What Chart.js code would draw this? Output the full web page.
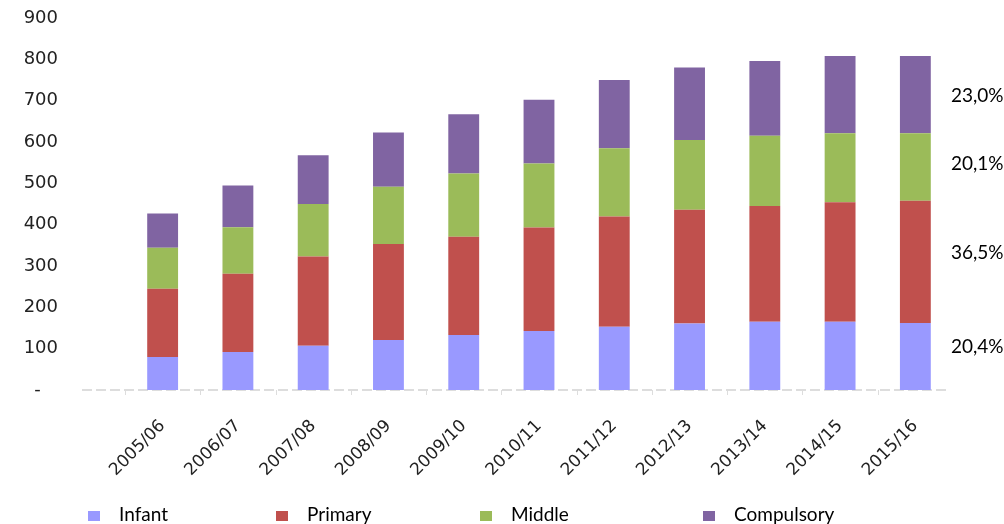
<!DOCTYPE html>
<html>
<head>
<meta charset="utf-8">
<script src="https://cdn.jsdelivr.net/npm/chart.js@4/dist/chart.umd.min.js"></script>
<style>
  body { margin: 0; background: #fff; }
  #wrap { position: relative; width: 1004px; height: 524px; }
</style>
</head>
<body>
<div id="wrap"><canvas id="chart" width="1004" height="524"></canvas></div>
<script>
// School years on the x axis
const years = ["2005/06", "2006/07", "2007/08", "2008/09", "2009/10", "2010/11",
  "2011/12", "2012/13", "2013/14", "2014/15", "2015/16"];

// Stacked values per level
const infant = [80, 92, 107, 121, 133, 143, 153, 161, 165, 165, 162];
const primary = [165, 189, 216, 232, 238, 250, 267, 275, 280, 289, 296];
const middle = [99, 113, 127, 139, 153, 155, 165, 169, 170, 167, 163];
const compulsory = [83, 101, 118, 131, 143, 154, 165, 175, 181, 187, 187];

// Share labels on the right, bottom to top
const shareLabels = ["20,4%", "36,5%", "20,1%", "23,0%"];

const levelNames = ["Infant", "Primary", "Middle", "Compulsory"];
const levelColors = ["#9999ff", "#c0504d", "#9bbb59", "#8064a2"];

// dashed base line + small ticks, like the original
const baseLine = {
  id: "baseLine",
  beforeDatasetsDraw(chart) {
    const ctx = chart.ctx;
    const x = chart.scales.x;
    const y0 = chart.scales.y.getPixelForValue(0);
    const step = x.getPixelForTick(1) - x.getPixelForTick(0);
    ctx.save();
    ctx.strokeStyle = "#dddddd";
    ctx.lineWidth = 2;
    ctx.setLineDash([10, 4]);
    ctx.beginPath();
    ctx.moveTo(82, y0);
    ctx.lineTo(950, y0);
    ctx.stroke();
    ctx.setLineDash([]);
    ctx.lineWidth = 1;
    for (let i = 0; i < years.length; i++) {
      const tx = Math.round(x.getPixelForTick(i) - step / 2) + 0.5;
      ctx.beginPath();
      ctx.moveTo(tx, y0);
      ctx.lineTo(tx, y0 + 5);
      ctx.stroke();
    }
    ctx.restore();
  },
};

// share labels on the right and the legend at the bottom
const extraText = {
  id: "extraText",
  afterDraw(chart) {
    const ctx = chart.ctx;
    ctx.save();
    ctx.fillStyle = "#000";
    ctx.font = "19px Lato";
    ctx.textAlign = "left";
    ctx.textBaseline = "middle";
    const shareY = [347, 253, 164, 96];
    shareLabels.forEach((t, i) => ctx.fillText(t, 951, shareY[i]));

    // legend
    const legendX = [88, 276, 480, 703];
    ctx.textBaseline = "alphabetic";
    chart.data.datasets.forEach((ds, i) => {
      ctx.fillStyle = ds.backgroundColor;
      ctx.fillRect(legendX[i], 511, 12, 10);
      ctx.fillStyle = "#000";
      ctx.fillText(ds.label, legendX[i] + 31, 521);
    });
    ctx.restore();
  },
};

const seriesData = [infant, primary, middle, compulsory];

const chart = new Chart(document.getElementById("chart"), {
  type: "bar",
  data: {
    labels: years,
    datasets: seriesData.map((d, i) => ({
      label: levelNames[i],
      data: d,
      backgroundColor: levelColors[i],
      borderWidth: 0,
      categoryPercentage: 0.41,
      barPercentage: 1,
    })),
  },
  options: {
    responsive: false,
    animation: false,
    layout: { padding: { left: 0, right: 51, top: 18, bottom: 50 } },
    plugins: {
      legend: { display: false },
      tooltip: { enabled: false },
    },
    scales: {
      x: {
        stacked: true,
        grid: { display: false, drawTicks: false },
        border: { display: false },
        ticks: {
          color: "#222",
          font: { family: "'DejaVu Sans'", size: 17 },
          minRotation: 45,
          maxRotation: 45,
          padding: 26,
        },
      },
      y: {
        stacked: true,
        min: 0,
        max: 900,
        grid: { display: false, drawTicks: false },
        border: { display: false },
        ticks: {
          stepSize: 100,
          color: "#222",
          font: { family: "'DejaVu Sans'", size: 18 },
          padding: 67,
          callback: (v) => (v === 0 ? "-   " : v),
        },
        afterFit(scale) {
          // keep the label gap from eating the plot height
          scale.width = 125;
          scale.paddingTop = 10;
          scale.paddingBottom = 10;
        },
      },
    },
  },
  plugins: [baseLine, extraText],
});

// nudge the plot area to the spot used by the original
const area = chart.chartArea;
chart.options.layout.padding.top += 18 - area.top;
chart.options.layout.padding.bottom += area.bottom - 390;
chart.update();
</script>
</body>
</html>
